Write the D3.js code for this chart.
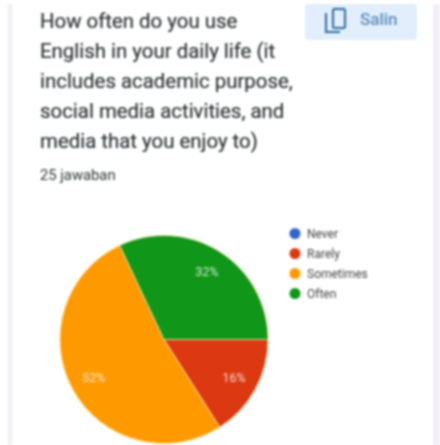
<!DOCTYPE html>
<html><head><meta charset="utf-8">
<script src="https://cdn.jsdelivr.net/npm/d3@7"></script>
<style>html,body{margin:0;padding:0;background:#fff;overflow:hidden}svg{display:block;filter:blur(0.8px)}</style>
</head><body><svg id="c" width="440" height="445"></svg>
<script>
const categories=["Never","Rarely","Sometimes","Often"];
const values=[0,16,52,32];
const labels=["","16%","52%","32%"];
const colors=["#3366cc","#dc3912","#ff9900","#109618"];
const titleLines=["How often do you use","English in your daily life (it","includes academic purpose,","social media activities, and","media that you enjoy to)"];
const subtitle="25 jawaban";
const copyLabel="Salin";

const svg=d3.select("#c");
const font="Roboto, sans-serif";
svg.append("rect").attr("width",440).attr("height",445).attr("fill","#fff");
svg.append("rect").attr("x",8).attr("y",4).attr("width",4).attr("height",441).attr("fill","#f1eff4");
svg.append("rect").attr("x",433).attr("y",4).attr("width",7).attr("height",441).attr("fill","#f3eff7");

const copy=svg.append("g");
copy.append("rect").attr("x",305).attr("y",4).attr("width",112).attr("height",36).attr("rx",3).attr("fill","#e3eefc");
copy.append("rect").attr("x",333).attr("y",9).attr("width",12).attr("height",19).attr("rx",1.5).attr("fill","none").attr("stroke","#2a6a9e").attr("stroke-width",2);
copy.append("path").attr("d","M326 13V32H340").attr("fill","none").attr("stroke","#2a6a9e").attr("stroke-width",2);
copy.append("text").attr("x",360).attr("y",25).attr("font-family",font).attr("font-size",17).attr("font-weight",500).attr("fill","#5a8db8").text(copyLabel);

svg.append("g").selectAll("text").data(titleLines).join("text")
  .attr("x",40).attr("y",(d,i)=>28.3+i*30)
  .attr("font-family",font).attr("font-size",20.4).attr("fill","#2f3336").attr("stroke","#2f3336").attr("stroke-width",0.2).text(d=>d);
svg.append("text").attr("x",40).attr("y",180).attr("font-family",font).attr("font-size",14.8).attr("fill","#2f3336").text(subtitle);

const cx=164,cy=339.5,r=104;
const pie=d3.pie().sort(null).startAngle(Math.PI/2).endAngle(Math.PI*2.5)(values);
const arc=d3.arc().innerRadius(0).outerRadius(r);
const labelArc=d3.arc().innerRadius(r*0.77).outerRadius(r*0.77);
const g=svg.append("g").attr("transform",`translate(${cx},${cy})`);
g.selectAll("path").data(pie).join("path").attr("d",arc)
  .attr("fill",(d,i)=>colors[i]).attr("stroke","#f3e6a0").attr("stroke-width",0.8);
g.selectAll("text").data(pie).join("text")
  .attr("transform",d=>`translate(${labelArc.centroid(d)})`)
  .attr("text-anchor","middle").attr("dy","0.35em")
  .attr("font-family",font).attr("font-size",12.5).attr("fill","#fff").attr("fill-opacity",0.8)
  .text((d,i)=>labels[i]);

const ly=d3.scalePoint().domain(categories).range([233.5,293.5]);
const leg=svg.append("g").selectAll("g").data(categories).join("g")
  .attr("transform",d=>`translate(295,${ly(d)})`);
leg.append("circle").attr("r",5.5).attr("fill",(d,i)=>colors[i]);
leg.append("text").attr("x",12).attr("dy","0.35em").attr("font-family",font).attr("font-size",12).attr("fill","#444").text(d=>d);
</script></body></html>
